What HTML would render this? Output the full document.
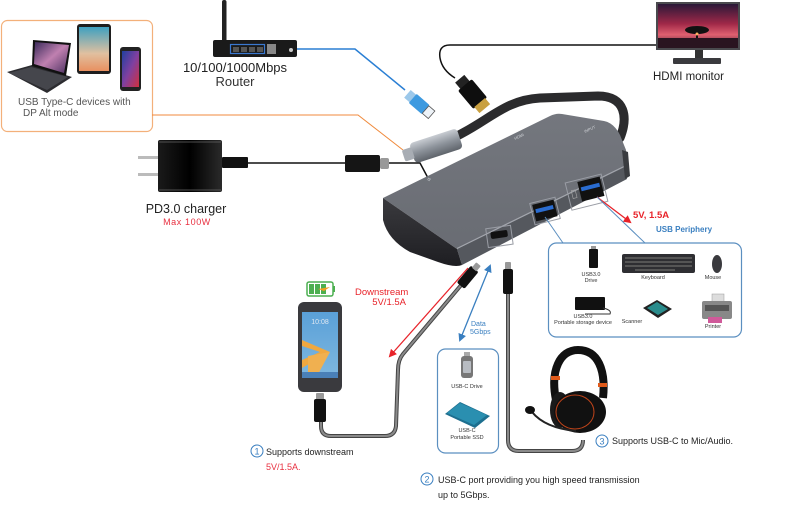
<!DOCTYPE html>
<html><head><meta charset="utf-8"><style>
html,body{margin:0;padding:0;background:#fff;width:787px;height:510px;overflow:hidden}
svg{display:block}
text{font-family:"Liberation Sans",sans-serif}
</style></head><body>
<svg width="787" height="510" viewBox="0 0 787 510" xmlns="http://www.w3.org/2000/svg">
<defs>
<linearGradient id="lapScr" x1="0" y1="0" x2="1" y2="1"><stop offset="0" stop-color="#3a2a5a"/><stop offset=".5" stop-color="#c080b0"/><stop offset="1" stop-color="#4a3060"/></linearGradient>
<linearGradient id="tabScr" x1="0" y1="0" x2="0" y2="1"><stop offset="0" stop-color="#3fa0c0"/><stop offset=".6" stop-color="#e0c0a0"/><stop offset="1" stop-color="#e89060"/></linearGradient>
<linearGradient id="phScr" x1="0" y1="0" x2="1" y2="1"><stop offset="0" stop-color="#2040a0"/><stop offset=".5" stop-color="#8040a0"/><stop offset="1" stop-color="#d03040"/></linearGradient>
<linearGradient id="monScr" x1="0" y1="0" x2="0" y2="1"><stop offset="0" stop-color="#2a1838"/><stop offset=".45" stop-color="#a02848"/><stop offset=".7" stop-color="#e06070"/><stop offset="1" stop-color="#3a1a2a"/></linearGradient>
<linearGradient id="chg" x1="0" y1="0" x2="1" y2="0"><stop offset="0" stop-color="#1a1a1a"/><stop offset=".5" stop-color="#000"/><stop offset="1" stop-color="#2a2a2a"/></linearGradient>
<linearGradient id="top" x1="0" y1="0" x2="0" y2="1"><stop offset="0" stop-color="#74777e"/><stop offset="1" stop-color="#696c73"/></linearGradient>
<linearGradient id="cap" x1="0" y1="0" x2="0" y2="1"><stop offset="0" stop-color="#3a3a3e"/><stop offset="1" stop-color="#1e1e22"/></linearGradient>
<linearGradient id="metal" x1="0" y1="0" x2="0" y2="1"><stop offset="0" stop-color="#c8ccd2"/><stop offset=".5" stop-color="#8d939b"/><stop offset="1" stop-color="#5f646b"/></linearGradient>
<linearGradient id="phone" x1="0" y1="0" x2="0" y2="1"><stop offset="0" stop-color="#5aa0d8"/><stop offset="1" stop-color="#7fb8e0"/></linearGradient>
<marker id="ar" markerWidth="8" markerHeight="8" refX="6" refY="4" orient="auto" markerUnits="userSpaceOnUse"><path d="M0,0 L8,4 L0,8 Z" fill="#e8232a"/></marker>
<marker id="ab" markerWidth="8" markerHeight="8" refX="6" refY="4" orient="auto" markerUnits="userSpaceOnUse"><path d="M0,0 L8,4 L0,8 Z" fill="#3a7fc0"/></marker>
<marker id="abs" markerWidth="8" markerHeight="8" refX="2" refY="4" orient="auto" markerUnits="userSpaceOnUse"><path d="M8,0 L0,4 L8,8 Z" fill="#3a7fc0"/></marker>
</defs>

<!-- Orange box with devices -->
<rect x="1.5" y="20.5" width="151" height="111" rx="6" fill="#fff" stroke="#f3b07a" stroke-width="1.2"/>
<polygon points="7,72 32,65 72,77 47,93" fill="#2c2c30"/>
<polygon points="9,73 31,67 68,77 47,90" fill="#45464c"/>
<polygon points="33,40 71,43 66,76 32,66" fill="#111"/>
<polygon points="35,42 69,45 64,73 34,64" fill="url(#lapScr)"/>
<rect x="77" y="24" width="34" height="50" rx="3" fill="#1e1e1e"/>
<rect x="79" y="27" width="30" height="44" fill="url(#tabScr)"/>
<rect x="120" y="47" width="21" height="44" rx="3" fill="#222"/>
<rect x="122" y="51" width="17" height="36" fill="url(#phScr)"/>
<text x="18" y="105" font-size="10" fill="#555">USB Type-C devices with</text>
<text x="23" y="116" font-size="10" fill="#555">DP Alt mode</text>
<polyline points="152,115 358,115 403,150" fill="none" stroke="#f08a3c" stroke-width="1"/>

<!-- Router -->
<rect x="222" y="0" width="4.5" height="42" rx="2" fill="#222"/>
<rect x="213" y="40" width="84" height="17" rx="2" fill="#1a1a1a"/>
<rect x="230.5" y="44.5" width="34" height="9" fill="none" stroke="#3a78d0" stroke-width="1.2"/>
<rect x="233" y="47" width="6" height="5" fill="#555"/><rect x="241" y="47" width="6" height="5" fill="#555"/><rect x="249" y="47" width="6" height="5" fill="#555"/><rect x="257" y="47" width="6" height="5" fill="#555"/>
<rect x="267" y="44" width="9" height="10" fill="#888"/>
<circle cx="291" cy="50" r="2" fill="#ccc"/>
<text x="235" y="72" font-size="13" fill="#222" text-anchor="middle">10/100/1000Mbps</text>
<text x="235" y="86" font-size="13" fill="#333" text-anchor="middle">Router</text>
<polyline points="297,49 355,49 405,90" fill="none" stroke="#2a7fd4" stroke-width="1.5"/>
<g transform="translate(418,103) rotate(41)">
<rect x="-14" y="-5" width="8" height="10" fill="#9cc8ea"/>
<rect x="-7" y="-6" width="17" height="12" rx="1" fill="#3d9ae0"/>
<rect x="10" y="-5" width="8" height="10" fill="#eef3f8" stroke="#555" stroke-width=".8"/>
</g>

<!-- Monitor -->
<rect x="656" y="2" width="84" height="48" fill="#4a4a4e"/>
<rect x="658" y="4" width="80" height="44" fill="url(#monScr)"/>
<ellipse cx="697" cy="30" rx="12" ry="4" fill="#111"/>
<rect x="696" y="30" width="2" height="10" fill="#111"/>
<rect x="658" y="38" width="80" height="10" fill="#2a1420"/>
<circle cx="697" cy="34" r="1.5" fill="#ffb060"/>
<rect x="695" y="50" width="8" height="9" fill="#333"/>
<rect x="673" y="58" width="48" height="6" rx="1" fill="#3a3a3e"/>
<text x="653" y="80" font-size="11.5" fill="#222">HDMI monitor</text>
<path d="M656,45 L450,45 Q438,45 440,58 Q442,70 455,78" fill="none" stroke="#111" stroke-width="1.5"/>
<g transform="translate(470,91) rotate(50)">
<rect x="-16" y="-6" width="10" height="12" fill="#222"/>
<rect x="-8" y="-9" width="24" height="18" rx="2" fill="#0e0e0e"/>
<rect x="15" y="-7" width="8" height="14" fill="#c9a040"/>
</g>

<!-- Charger -->
<rect x="138" y="156" width="20" height="3" fill="#bbb"/>
<rect x="138" y="173" width="20" height="3" fill="#bbb"/>
<rect x="158" y="140" width="64" height="52" rx="2" fill="url(#chg)"/>
<line x1="159" y1="142" x2="221" y2="142" stroke="#666" stroke-width=".8"/>
<line x1="159" y1="190" x2="221" y2="190" stroke="#666" stroke-width=".8"/>
<rect x="222" y="157" width="26" height="11" rx="1" fill="#111"/>
<line x1="248" y1="163" x2="347" y2="163" stroke="#111" stroke-width="1.5"/>
<rect x="345" y="155" width="35" height="17" rx="2" fill="#151515"/>
<rect x="380" y="158" width="9" height="11" rx="2" fill="#999"/>
<polyline points="389,163 420,163 428,178" fill="none" stroke="#111" stroke-width="1.5"/>
<text x="186" y="213" font-size="12.5" fill="#222" text-anchor="middle">PD3.0 charger</text>
<text x="187" y="225" font-size="9" fill="#e83040" text-anchor="middle" letter-spacing=".6">Max 100W</text>

<!-- Hub cable -->
<path d="M455,137 C490,120 505,100 540,98 L598,96 C626,96 628,118 620,138" fill="none" stroke="#2b2b2d" stroke-width="9" stroke-linecap="round"/>
<!-- Hub body -->
<path d="M383,198 L550,116 Q556,113 562,114 L604,121 Q614,123 620,135 L626,150 L627,168 L457,249 Z" fill="url(#top)"/>
<polygon points="457,249 625,167 627,179 462,265" fill="#55585e"/>
<line x1="457" y1="248.5" x2="624" y2="166.5" stroke="#a3a6ad" stroke-width="1.2"/>
<path d="M383,198 L457,249 L462,265 Q455,268 438,262 L410,252 Q388,240 383,220 Z" fill="url(#cap)"/>
<path d="M622,150 L628,152 L630,176 L625,179 Z" fill="#3a3c40"/>
<!-- port labels -->
<text x="428" y="181" font-size="4" fill="#cfd2d6" transform="rotate(-25 428 181)">ф</text>
<text x="515" y="140" font-size="4" fill="#cfd2d6" transform="rotate(-25 515 140)">HDMI</text>
<text x="585" y="133" font-size="4" fill="#cfd2d6" transform="rotate(-25 585 133)">INPUT</text>
<!-- ports -->
<g transform="translate(499,237) rotate(-8)">
<rect x="-12" y="-10" width="25" height="19" fill="none" stroke="#9a9da5" stroke-width="1"/>
<rect x="-8" y="-6" width="17" height="7" rx="2" fill="#111"/>
</g>
<g transform="translate(545,211) rotate(-14)">
<rect x="-13" y="-11" width="26" height="22" fill="none" stroke="#9a9da5" stroke-width="1"/>
<rect x="-11" y="-9" width="22" height="17" fill="#111"/>
<rect x="-9" y="-4" width="18" height="4" fill="#2a6cd0"/>
</g>
<g transform="translate(587,192) rotate(-14)">
<rect x="-19" y="-14" width="37" height="28" fill="none" stroke="#9a9da5" stroke-width="1"/>
<rect x="-7" y="-12" width="23" height="20" fill="#111"/>
<rect x="-5" y="-6" width="19" height="4" fill="#2a6cd0"/>
<rect x="-15" y="-5" width="4" height="8" fill="none" stroke="#aaa" stroke-width=".6"/>
</g>
<!-- USB-C plug sleeve -->
<g transform="translate(434,146) rotate(-18)">
<rect x="-23" y="-10" width="50" height="21" rx="4" fill="url(#metal)"/>
<rect x="-32" y="-6" width="10" height="12" rx="2" fill="#a8adb4"/>
</g>

<line x1="597" y1="197" x2="630" y2="222" stroke="#e8232a" stroke-width="1.3" marker-end="url(#ar)"/>
<text x="633" y="218" font-size="9.5" font-weight="bold" fill="#e8232a">5V, 1.5A</text>
<text x="656" y="232" font-size="8" font-weight="bold" fill="#3a7fc0">USB Periphery</text>
<line x1="545" y1="217" x2="563" y2="243" stroke="#5b8fc0" stroke-width="1"/>
<line x1="597" y1="197" x2="645" y2="243" stroke="#5b8fc0" stroke-width="1"/>

<!-- Peripheral box -->
<rect x="548.5" y="243" width="193" height="94" rx="8" fill="#fff" stroke="#5b8fc0" stroke-width="1.2"/>
<rect x="591" y="246" width="5" height="4" fill="#999"/>
<rect x="589" y="249" width="9" height="19" rx="1" fill="#111"/>
<text x="591" y="276" font-size="5.5" fill="#333" text-anchor="middle">USB3.0</text>
<text x="591" y="282" font-size="5.5" fill="#333" text-anchor="middle">Drive</text>
<rect x="622" y="254" width="73" height="19" rx="2" fill="#2e2e32"/>
<g fill="#555">
<rect x="625" y="257" width="67" height="2"/><rect x="625" y="261" width="67" height="2"/><rect x="625" y="265" width="67" height="2"/><rect x="635" y="269" width="40" height="2"/>
</g>
<text x="653" y="279" font-size="5.5" fill="#333" text-anchor="middle">Keyboard</text>
<ellipse cx="717" cy="264" rx="5" ry="9" fill="#3a3a3e"/>
<text x="713" y="279" font-size="5.5" fill="#333" text-anchor="middle">Mouse</text>
<rect x="575" y="297" width="30" height="13" rx="1" fill="#111"/>
<path d="M603,308 Q612,310 610,314 L585,314" fill="none" stroke="#333" stroke-width="1"/>
<text x="583" y="318" font-size="5.5" fill="#333" text-anchor="middle">USB3.0</text>
<text x="583" y="324" font-size="5.5" fill="#333" text-anchor="middle">Portable storage device</text>
<polygon points="643,308 657,300 672,309 658,318" fill="#222"/>
<polygon points="647,308 657,302 668,309 658,315" fill="#2a8c8c"/>
<text x="632" y="323" font-size="5.5" fill="#333" text-anchor="middle">Scanner</text>
<rect x="712" y="294" width="12" height="8" fill="#ddd" stroke="#999" stroke-width=".5"/>
<rect x="702" y="301" width="30" height="18" rx="2" fill="#888"/>
<rect x="705" y="305" width="24" height="6" fill="#555"/>
<rect x="708" y="317" width="14" height="6" fill="#d05a9a"/>
<text x="713" y="328" font-size="5.5" fill="#333" text-anchor="middle">Printer</text>

<line x1="468" y1="268" x2="390" y2="356" stroke="#e8232a" stroke-width="1.3" marker-end="url(#ar)"/>
<text x="355" y="295" font-size="9.5" fill="#e8232a">Downstream</text>
<text x="406" y="305" font-size="9.5" fill="#e8232a" text-anchor="end">5V/1.5A</text>
<line x1="490" y1="266" x2="460" y2="340" stroke="#3a7fc0" stroke-width="1.3" marker-start="url(#abs)" marker-end="url(#ab)"/>
<text x="471" y="326" font-size="7" fill="#3a7fc0">Data</text>
<text x="470" y="334" font-size="7" fill="#3a7fc0">5Gbps</text>

<!-- USB-C device box -->
<rect x="437.5" y="349" width="61" height="104" rx="8" fill="#fff" stroke="#5b8fc0" stroke-width="1.2"/>
<rect x="464" y="352" width="6" height="5" fill="#aaa"/>
<rect x="461" y="356" width="12" height="22" rx="3" fill="#777"/>
<rect x="463" y="361" width="8" height="12" rx="1" fill="#b8bcc2"/>
<text x="467" y="388" font-size="5.5" fill="#333" text-anchor="middle">USB-C  Drive</text>
<polygon points="445,414 460,402 490,416 475,428" fill="#1d6f8f"/>
<polygon points="447,413 460,403 487,415 474,425" fill="#2a8fb0"/>
<text x="467" y="432" font-size="5.5" fill="#333" text-anchor="middle">USB-C</text>
<text x="467" y="439" font-size="5.5" fill="#333" text-anchor="middle">Portable  SSD</text>

<path d="M462,284 L403,354 Q398,360 398,370 L396,426 Q395,436 385,436 L331,436 Q321,436 321,426 L321,420" fill="none" stroke="#444" stroke-width="4"/>
<path d="M462,284 L403,354 Q398,360 398,370 L396,426 Q395,436 385,436 L331,436 Q321,436 321,426 L321,420" fill="none" stroke="#8a8a8a" stroke-width="2"/>
<g transform="translate(467,278) rotate(40)">
<rect x="-5" y="-12" width="10" height="22" rx="2" fill="#111"/>
<rect x="-3" y="-18" width="6" height="7" rx="1" fill="#999"/>
</g>
<path d="M508,293 L508,440 Q508,451 519,451 L572,451 Q583,451 583,440" fill="none" stroke="#444" stroke-width="4"/>
<path d="M508,293 L508,440 Q508,451 519,451 L572,451 Q583,451 583,440" fill="none" stroke="#8a8a8a" stroke-width="2"/>
<rect x="505" y="262" width="6" height="8" rx="1" fill="#999"/>
<rect x="503" y="269" width="10" height="25" rx="2" fill="#111"/>

<!-- Phone -->
<rect x="307" y="282" width="26" height="14" rx="2" fill="#fff" stroke="#4caf50" stroke-width="1.5"/>
<rect x="333" y="286" width="2" height="6" fill="#4caf50"/>
<rect x="309" y="284" width="5" height="10" fill="#4caf50"/><rect x="315" y="284" width="5" height="10" fill="#4caf50"/><rect x="321" y="284" width="5" height="10" fill="#4caf50"/>
<path d="M318,289 L330,287 L324,291 Z" fill="#f0a020"/>
<rect x="298" y="302" width="44" height="90" rx="6" fill="#3a3a3e"/>
<rect x="302" y="312" width="36" height="66" fill="url(#phone)"/>
<polygon points="302,340 330,352 302,368 302,360 320,352 302,346" fill="#f0a840"/>
<polygon points="308,356 330,352 316,378 308,378" fill="#f0b050"/>
<rect x="302" y="372" width="36" height="6" fill="#4a80b8"/>
<text x="320" y="324" font-size="7" fill="#dfe8f2" text-anchor="middle">10:08</text>
<rect x="316" y="393" width="8" height="7" rx="1" fill="#999"/>
<rect x="314" y="399" width="12" height="23" rx="2" fill="#111"/>

<!-- Headset -->
<path d="M556,400 C550,370 560,350 578,350 C598,350 606,370 603,398" fill="none" stroke="#111" stroke-width="8"/>
<rect x="551" y="376" width="9" height="4" fill="#e05a1a"/>
<rect x="598" y="383" width="9" height="4" fill="#e05a1a"/>
<ellipse cx="560" cy="410" rx="10" ry="18" fill="#1a1a1a"/>
<ellipse cx="580" cy="412" rx="26" ry="21" fill="#111"/>
<ellipse cx="575" cy="412" rx="19" ry="17" fill="none" stroke="#c0441a" stroke-width="1"/>
<path d="M532,412 Q545,428 576,431" fill="none" stroke="#222" stroke-width="2"/>
<ellipse cx="530" cy="410" rx="5" ry="4" fill="#111"/>

<!-- bottom texts -->
<circle cx="257" cy="451" r="6" fill="none" stroke="#3a7fc0" stroke-width="1"/>
<text x="257" y="454.5" font-size="9" fill="#3a7fc0" text-anchor="middle">1</text>
<text x="266" y="455" font-size="9" fill="#222">Supports downstream</text>
<text x="266" y="470" font-size="9" fill="#e83040">5V/1.5A.</text>
<circle cx="427" cy="479" r="6" fill="none" stroke="#3a7fc0" stroke-width="1"/>
<text x="427" y="482.5" font-size="9" fill="#3a7fc0" text-anchor="middle">2</text>
<text x="438" y="483" font-size="9" fill="#222">USB-C port providing you high speed transmission</text>
<text x="438" y="498" font-size="9" fill="#222">up to 5Gbps.</text>
<circle cx="602" cy="441" r="6" fill="none" stroke="#3a7fc0" stroke-width="1"/>
<text x="602" y="444.5" font-size="9" fill="#3a7fc0" text-anchor="middle">3</text>
<text x="612" y="444" font-size="9" fill="#222">Supports USB-C to Mic/Audio.</text>
</svg>
</body></html>
